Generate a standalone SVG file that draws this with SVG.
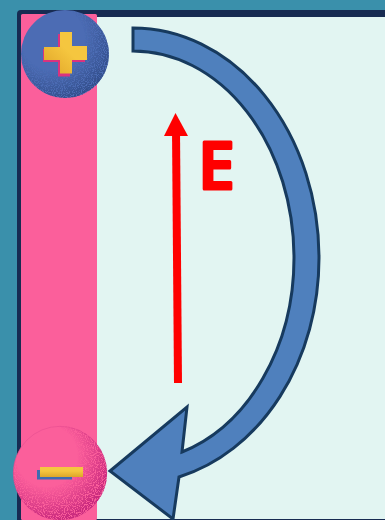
<svg xmlns="http://www.w3.org/2000/svg" width="385" height="520" viewBox="0 0 385 520">
<defs>
<style>
.arc{fill:#4f80bd;stroke:#173a5e;stroke-width:3;stroke-linejoin:miter}
.lab{font-family:"Open Sans","DejaVu Sans",sans-serif;font-weight:600;font-size:66px;fill:#ff0000;stroke:#ff0000;stroke-width:3;stroke-linejoin:round}
</style>
<filter id="grain" x="0" y="0" width="1" height="1">
<feTurbulence type="fractalNoise" baseFrequency="0.9" numOctaves="2" seed="4" result="n"/>
<feColorMatrix in="n" type="matrix" values="0 0 0 0 0 0 0 0 0 0 0 0 0 0 0 0 0 0 7 -2.6" result="m"/>
<feComposite in="SourceGraphic" in2="m" operator="in"/>
</filter>
<radialGradient id="shadeB" cx="0.36" cy="0.32" r="0.72">
<stop offset="0.5" stop-color="#2f4a86" stop-opacity="0"/>
<stop offset="1" stop-color="#2f4a86" stop-opacity="0.9"/>
</radialGradient>
<radialGradient id="shadeP" cx="0.36" cy="0.32" r="0.72">
<stop offset="0.45" stop-color="#c92a7e" stop-opacity="0"/>
<stop offset="0.95" stop-color="#c92a7e" stop-opacity="1"/>
</radialGradient>
<linearGradient id="gold" x1="0" y1="1" x2="1" y2="0">
<stop offset="0" stop-color="#dfa327"/>
<stop offset="0.55" stop-color="#f5c63f"/>
</linearGradient>
<linearGradient id="goldV" x1="0" y1="0" x2="0" y2="1">
<stop offset="0.4" stop-color="#f5c63f"/>
<stop offset="1" stop-color="#dca62a"/>
</linearGradient>
</defs>
<rect width="385" height="520" fill="#3a90ab"/>
<g id="panel">
<rect x="17" y="10" width="380" height="520" rx="4" fill="#172b52"/>
<rect x="21" y="17" width="370" height="502" fill="#e2f5f2"/>
<rect x="21" y="14" width="76" height="506" rx="1.5" fill="#fb5f9b"/>
<rect x="97" y="519" width="288" height="1" fill="#172b52"/>
</g>
<g id="connectors">
<path class="arc" d="M133 28A186 230 0 0 1 319 258A186 226 0 0 1 179 477L173 519L110 471L187 407L182 452A161 203.600 0 0 0 294 258A161 207 0 0 0 133 51Z"/>
<path d="M178 383L176 130" fill="none" stroke="#ff0000" stroke-width="8"/>
<polygon points="175.500,113 164,136 188,136" fill="#ff0000"/>
</g>
<g id="field-label"><text class="lab" x="198" y="188.500">E</text></g>
<g id="plus-node">
<circle cx="65" cy="54" r="44" fill="#4c6cb4"/>
<circle cx="65" cy="54" r="44" fill="url(#shadeB)" filter="url(#grain)"/>
<path d="M58 34h12v14h15v14H70v14.500H58V62H43V49h15Z" fill="#d9337f"/>
<path d="M60 32h12v14h15v14H72v13.500H60V60H44V47h16Z" fill="url(#gold)"/>
</g>
<g id="minus-node">
<circle cx="60" cy="473" r="46.700" fill="#fb5f9b" stroke="#e64f90" stroke-width="0.6"/>
<circle cx="60" cy="473" r="47" fill="url(#shadeP)" filter="url(#grain)"/>
<rect x="37" y="470" width="35" height="9.500" fill="#3f6cb0"/>
<rect x="40" y="467" width="43" height="10" fill="url(#goldV)"/>
</g>
</svg>
